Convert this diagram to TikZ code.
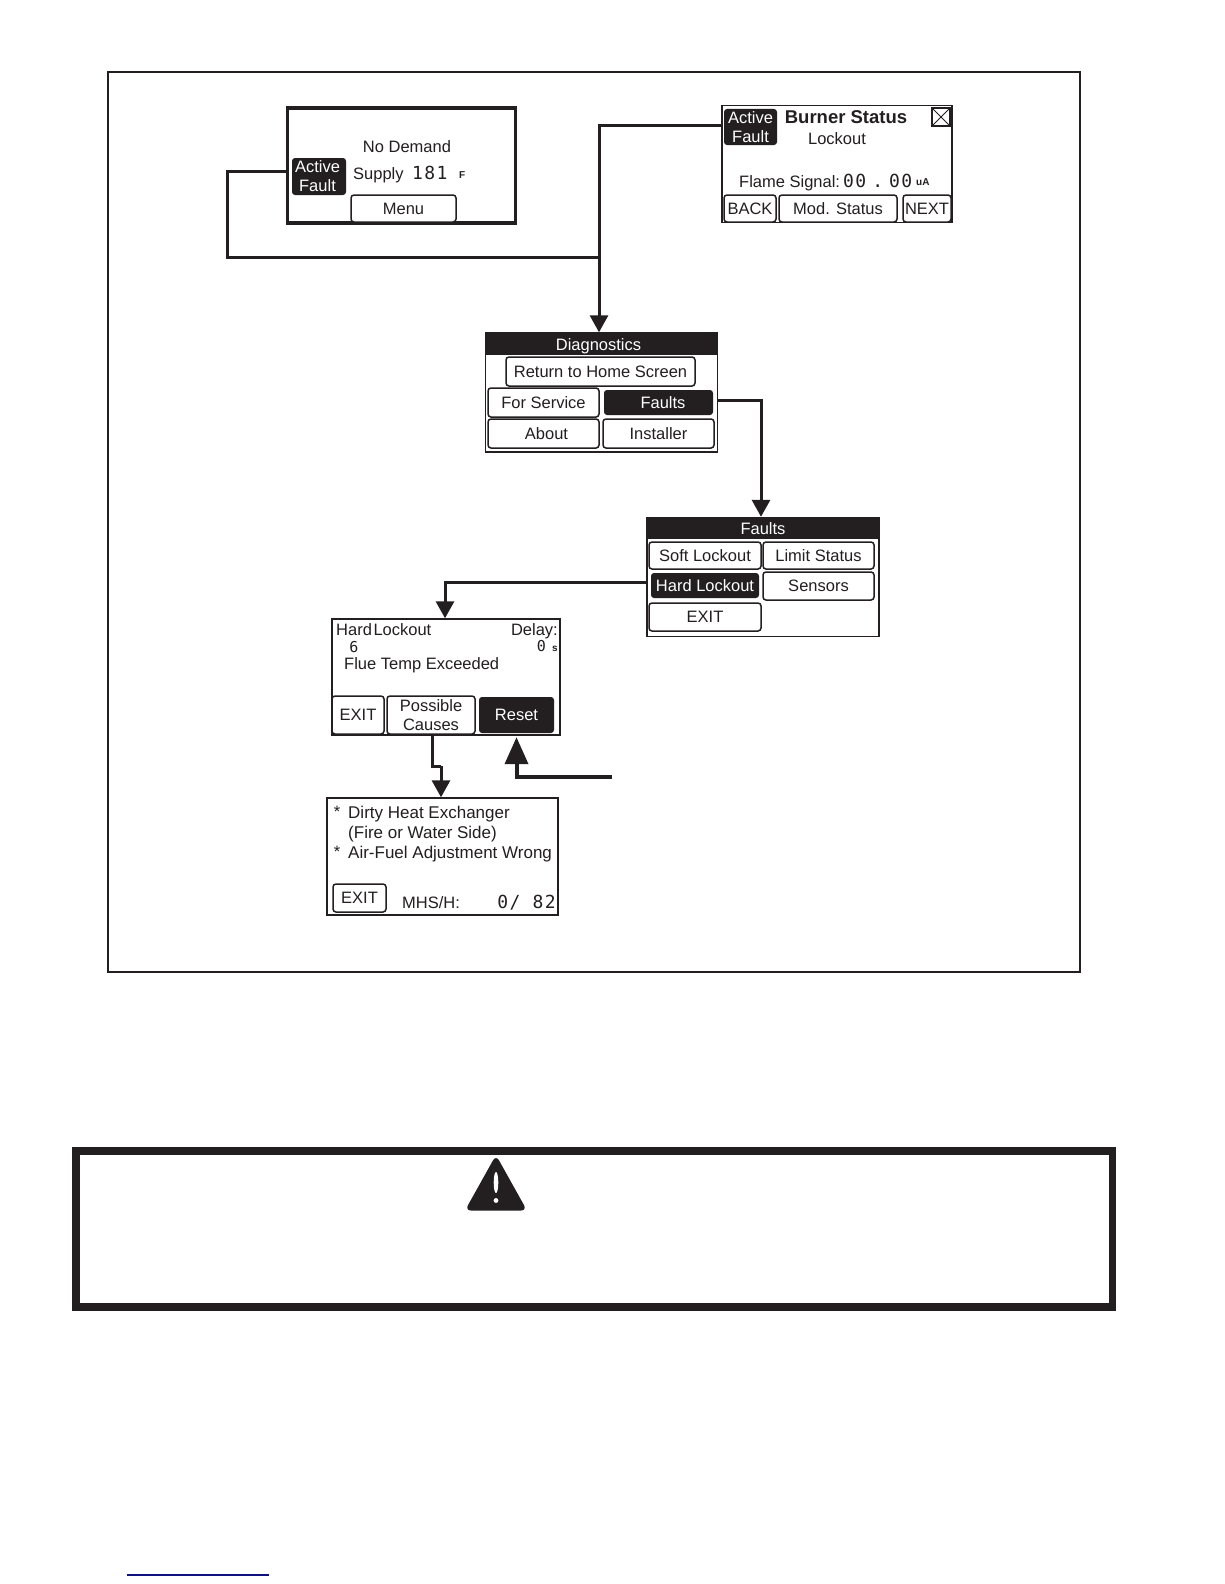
\documentclass[tikz,border=0pt]{standalone}
\usepackage{fontspec}
\setmainfont{Liberation Sans}
\newfontfamily\lcdmono[LetterSpace=8]{DejaVu Sans Mono}
\usetikzlibrary{arrows.meta}
\definecolor{Ink}{HTML}{231F20}
\definecolor{LinkBlue}{HTML}{10107F}
\newcommand{\lcdfont}{\fontsize{16.5}{19}\selectfont}
\newcommand{\lcdlong}{\fontsize{17}{19}\selectfont}
\newcommand{\lcddigits}{\lcdmono\fontsize{18}{20}\selectfont}
\newcommand{\lcdsmall}{\lcdmono\fontsize{15}{16}\selectfont}
\newcommand{\lcdtiny}{\fontsize{10}{10}\selectfont\bfseries}
\tikzset{
  screen/.style={draw=Ink, fill=white, line width=1.4pt, inner sep=0pt},
  heavyscreen/.style={screen, line width=3.2pt},
  lcdbtn/.style={draw=Ink, fill=white, line width=1.5pt, rounded corners=3pt, inner sep=0pt, font=\lcdfont, text=Ink, align=center},
  lcdon/.style={fill=Ink, rounded corners=3pt, inner sep=0pt, font=\lcdfont, text=white, align=center},
  titlebar/.style={fill=Ink, inner sep=0pt, font=\lcdfont, text=white, text height=15pt, text depth=2pt},
  evenline/.style={text height=14pt, text depth=3pt},
  lcdtext/.style={inner sep=0pt, font=\lcdfont, text=Ink, evenline},
  flow/.style={draw=Ink, line width=3pt, -{Triangle[length=17pt,width=18pt]}},
  flowplain/.style={draw=Ink, line width=3pt},
}
\begin{document}
\begin{tikzpicture}[x=1pt,y=-1pt]
\useasboundingbox (0,0) rectangle (1224,1584);
\draw[Ink, line width=1.6pt] (108,72) rectangle (1080,972);
% home screen
\node[heavyscreen, minimum width=228pt, minimum height=115pt] (home) at (401.5,165.5) {};
\node[lcdon, minimum width=54pt, minimum height=37pt] (homefault) at (319,176.5) {\hspace*{-3pt}Active\\\hspace*{-3pt}Fault};
\node[lcdtext] (homedemand) at (407,147) {No Demand};
\node[lcdtext, anchor=west] (homesupply) at (353,174) {Supply};
\node[lcdtext, anchor=west, font=\lcddigits] (hometemp) at (412,174) {181};
\node[lcdtext, anchor=west, font=\lcdtiny] (homeunit) at (459,173) {F};
\node[lcdbtn, minimum width=105pt, minimum height=27pt] (menu) at (403.5,208.5) {Menu};
% burner status screen
\node[screen, minimum width=230pt, minimum height=117pt] (burner) at (837,164) {};
\node[lcdon, minimum width=53pt, minimum height=36pt] (burnerfault) at (750.5,127) {Active\\Fault};
\node[lcdtext, font=\fontsize{18.5}{20}\selectfont\bfseries] (burnertitle) at (846,118) {Burner Status};
\node[draw=Ink, line width=1.2pt, minimum size=18pt, inner sep=0pt] (burnerclose) at (941,117) {};
\draw[Ink, line width=.8pt] (burnerclose.north west) -- (burnerclose.south east);
\draw[Ink, line width=.8pt] (burnerclose.north east) -- (burnerclose.south west);
\node[lcdtext] (burnerstate) at (837,139) {Lockout};
\node[lcdtext, anchor=west] (burnerflame) at (739,182) {Flame Signal:};
\node[lcdtext, anchor=west, font=\lcddigits] (burnersignal) at (843,182) {00\hspace{6pt}.\hspace{6pt}00};
\node[lcdtext, anchor=west, font=\lcdtiny] (burnerunit) at (916,180) {uA};
\node[lcdbtn, minimum width=52pt, minimum height=27pt] (burnerback) at (750,208.5) {BACK};
\node[lcdbtn, minimum width=118pt, minimum height=27pt] (burnermod) at (838,208.5) {Mod. Status};
\node[lcdbtn, minimum width=48pt, minimum height=27pt] (burnernext) at (927,208.5) {NEXT};
% diagnostics menu
\node[screen, minimum width=232pt, minimum height=119pt] (diag) at (601.5,392.5) {};
\node[titlebar, minimum width=232pt, minimum height=21pt] (diagtitle) at (601.5,344) {\hspace*{-6pt}Diagnostics};
\node[lcdbtn, minimum width=189pt, minimum height=29pt] (diagreturn) at (600.5,371.5) {Return to Home Screen};
\node[lcdbtn, minimum width=111pt, minimum height=29pt] (diagservice) at (543.5,402.5) {For Service};
\node[lcdon, evenline, minimum width=109pt, minimum height=25pt] (diagfaults) at (658.5,402.5) {\hspace*{9pt}Faults};
\node[lcdbtn, minimum width=111pt, minimum height=29pt] (diagabout) at (543.5,433.5) {\hspace*{6pt}About};
\node[lcdbtn, minimum width=111pt, minimum height=29pt] (diaginstaller) at (658.5,433.5) {Installer};
% faults menu
\node[screen, minimum width=232pt, minimum height=119pt] (faults) at (763,577) {};
\node[titlebar, minimum width=232pt, minimum height=21pt] (faultstitle) at (763,528) {Faults};
\node[lcdbtn, minimum width=112pt, minimum height=27pt] (faultssoft) at (705,555.5) {Soft Lockout};
\node[lcdbtn, minimum width=111pt, minimum height=27pt] (faultslimit) at (818.5,555.5) {Limit Status};
\node[lcdon, evenline, minimum width=108pt, minimum height=25pt] (faultshard) at (705,585.5) {Hard Lockout};
\node[lcdbtn, minimum width=111pt, minimum height=28pt] (faultssensors) at (818.5,586) {Sensors};
\node[lcdbtn, minimum width=112pt, minimum height=28pt] (faultsexit) at (705,617) {EXIT};
% hard lockout screen
\node[screen, minimum width=228pt, minimum height=116pt] (lockout) at (446,677) {};
\node[lcdtext, anchor=west] (lockouthard) at (336,630) {Hard\hspace{-3pt} Lockout};
\node[lcdtext, anchor=east] (lockoutdelay) at (558,630) {Delay:};
\node[lcdtext, font=\lcdsmall] (lockoutnum) at (354,647) {6};
\node[lcdtext, anchor=east, font=\lcdsmall] (lockoutsec) at (546,646) {0};
\node[lcdtext, font=\lcdtiny] (lockoutunit) at (555,646) {s};
\node[lcdtext, anchor=west] (lockoutflue) at (344,664) {Flue Temp Exceeded};
\node[lcdbtn, minimum width=52pt, minimum height=38pt] (lockoutexit) at (358,715) {EXIT};
\node[lcdbtn, minimum width=88pt, minimum height=38pt] (lockoutcauses) at (431,715) {Possible\\Causes};
\node[lcdon, evenline, minimum width=75pt, minimum height=36pt] (lockoutreset) at (516.5,715) {Reset};
% possible causes screen
\node[screen, minimum width=231pt, minimum height=117pt] (causes) at (442.5,856.5) {};
\node[lcdtext] (causesstarone) at (337,812) {*};
\node[lcdtext, anchor=west, font=\lcdlong] (causesdirty) at (348,813) {Dirty Heat Exchanger};
\node[lcdtext, anchor=west, font=\lcdlong] (causesside) at (348,833) {(Fire or Water Side)};
\node[lcdtext] (causesstartwo) at (337,852) {*};
\node[lcdtext, anchor=west, font=\lcdlong] (causesair) at (348,853) {Air-Fuel Adjustment Wrong};
\node[lcdbtn, minimum width=53pt, minimum height=28pt] (causesexit) at (359.5,898) {EXIT};
\node[lcdtext, anchor=west] (causesmhs) at (402,903) {MHS/H:};
\node[lcdtext, anchor=east, font=\lcddigits] (causescount) at (556,903) {0/ 82};
% connectors
\coordinate (homeleft) at (227,171);
\coordinate (join) at (599,257);
\coordinate (causesstep) at (441,766);
\coordinate (resetstart) at (612,777);
\draw[flowplain] ([yshift=-5.5pt]home.west) -- (homeleft) |- (join);
\draw[flow] ([yshift=38.5pt]burner.west) -| ([xshift=-2.5pt]diag.north);
\draw[flow] ([yshift=2pt]diagfaults.east -| diag.east) -| ([xshift=-2pt]faults.north);
\draw[flow] ([yshift=-5pt]faults.west) -| ([xshift=-1pt]lockout.north);
\draw[flowplain] (lockoutcauses.south -| 432,736) |- (causesstep);
\draw[flow] (causesstep) -- (causesstep |- causes.north);
\draw[Ink, line width=4pt, -{Triangle[length=27pt,width=23pt]}] (resetstart) -| ([yshift=-4pt]lockoutreset.south);
% warning box
\draw[Ink, line width=7.5pt] (76,1151) rectangle (1112.5,1307);
\fill[Ink, rounded corners=6pt] (496,1155) -- (527,1210.5) -- (465,1210.5) -- cycle;
\fill[white] (496,1182.5) ellipse (2.3 and 10.5);
\fill[white] (496,1200.5) circle (2.4);
% bottom rule
\draw[LinkBlue, line width=1.2pt] (127,1575) -- (269,1575);
\end{tikzpicture}
\end{document}
